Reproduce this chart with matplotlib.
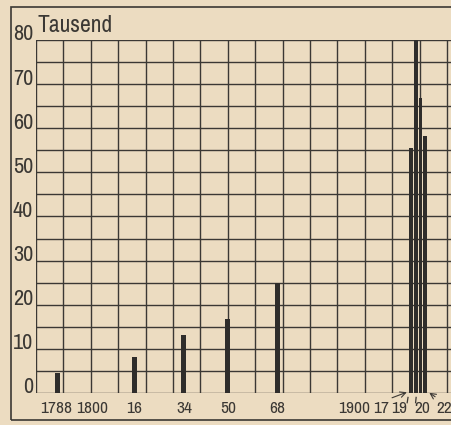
import numpy as np
import matplotlib.pyplot as plt
from matplotlib import font_manager
from matplotlib.patches import Rectangle

# Daten (Tausend)
early_years = [1788, 1816, 1834, 1850, 1868]
early_values = [4.6, 8.2, 13.2, 16.7, 25.0]
late_years = [1917, 1919, 1920, 1922]
late_values = [55.5, 80.0, 66.8, 58.2]
x_labels = ['1788', '1800', '16', '34', '50', '68', '1900']
x_label_years = [1787.5, 1800.5, 1816, 1834, 1850, 1868, 1896]
late_labels = ['17', '19', '20', '22']
y_ticks = [0, 10, 20, 30, 40, 50, 60, 70, 80]

paper = '#ecdcc1'
ink = '#3b3834'
bar_col = '#2f2d2b'

# schmale Schrift suchen, sonst DejaVu
names = sorted({f.name for f in font_manager.fontManager.ttflist})
narrow = [n for n in names if 'Narrow' in n or 'Condensed' in n]
fam = narrow[:1] + ['DejaVu Sans']
plt.rcParams['font.family'] = fam
plt.rcParams['font.stretch'] = 'condensed'

W, H = 451, 425
fig = plt.figure(figsize=(W / 100, H / 100), dpi=100)
fig.patch.set_facecolor(paper)

left, bottom, top = 36, 393, 40
ax = fig.add_axes([left / W, 1 - bottom / H, 1 - left / W, (bottom - top) / H])
ax.set_facecolor(paper)
px_per_year = 2.74
ax.set_xlim(1780, 1780 + (W - left) / px_per_year)
ax.set_ylim(0, 80)

# Raster
for yv in range(0, 81, 5):
    ax.axhline(yv, color=ink, lw=1.0, zorder=1)
for xv in range(1780, 1931, 10):
    ax.axvline(xv, color=ink, lw=1.0, zorder=1)

for s in ax.spines.values():
    s.set_visible(False)
ax.set_xticks([])
ax.set_yticks([])

# Balken
ax.bar(early_years, early_values, width=1.8, color=bar_col, zorder=3)
late_pos = np.linspace(late_years[0], late_years[-1], len(late_years))
ax.bar(late_pos, late_values, width=1.45, color=bar_col, zorder=3)

# y-Beschriftung
for v in y_ticks:
    ax.annotate(str(v), xy=(1780, v), xytext=(-2, 4), textcoords='offset points',
                ha='right', va='center', fontsize=16, color=ink, annotation_clip=False)

# x-Beschriftung
for yr, lab in zip(x_label_years, x_labels):
    ax.annotate(lab, xy=(yr, 0), xytext=(0, -6), textcoords='offset points',
                ha='center', va='top', fontsize=12.5, color=ink, annotation_clip=False)

offs = [(-22, -6), (-12, -6), (1.5, -6), (13.5, -6)]
for p, lab, (dx, dy) in zip(late_pos, late_labels, offs):
    ax.annotate(lab, xy=(p, 0), xytext=(dx, dy), textcoords='offset points',
                ha='center', va='top', fontsize=12.5, color=ink, annotation_clip=False)
# Pfeile und Striche
ax.annotate('', xy=(late_pos[0] - 0.7, 0.4), xytext=(late_pos[0] - 8, -1.3),
            arrowprops=dict(arrowstyle='->', color=ink, lw=0.8), annotation_clip=False)
ax.annotate('', xy=(late_pos[-1] + 0.7, 0.4), xytext=(late_pos[-1] + 4.5, -1.2),
            arrowprops=dict(arrowstyle='->', color=ink, lw=0.8), annotation_clip=False)
ax.plot([late_pos[1] - 3.2, late_pos[1] - 2.9], [-2.2, -1.0], color=ink, lw=0.9, clip_on=False)
ax.plot([late_pos[2] - 1.8, late_pos[2] - 1.6], [-2.2, -1.0], color=ink, lw=0.9, clip_on=False)

fig.text(37 / W, 1 - 32 / H, 'Tausend', fontsize=17, color=ink, va='baseline', ha='left')

# Rahmen
fig.patches.append(Rectangle((11 / W, 1 - 420 / H), 1.2, (420 - 7) / H,
                             transform=fig.transFigure, fill=False, ec=ink, lw=1.2))

fig.savefig('out.png', dpi=100, facecolor=paper)
